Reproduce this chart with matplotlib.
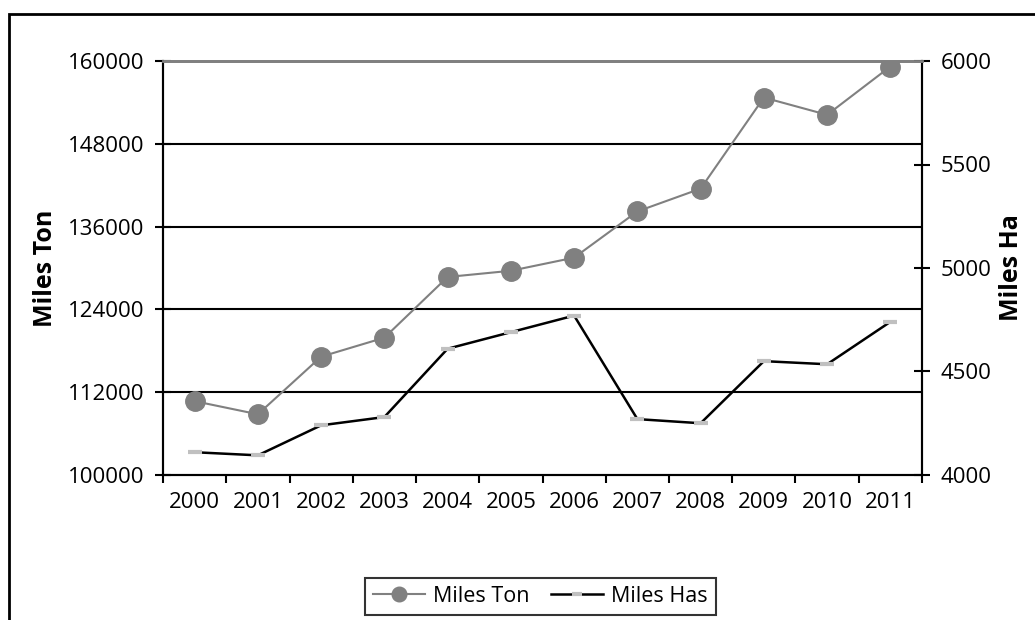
import matplotlib
matplotlib.use("Agg")
import matplotlib.pyplot as plt
from matplotlib.patches import Rectangle
import numpy as np

years = ["2000", "2001", "2002", "2003", "2004", "2005", "2006", "2007", "2008", "2009", "2010", "2011"]
miles_ton = [110700, 108800, 117150, 119900, 128700, 129600, 131500, 138200, 141500, 154700, 152200, 159200]
miles_has = [4110, 4095, 4240, 4280, 4610, 4690, 4770, 4270, 4250, 4550, 4535, 4740]
left_ticks = [100000, 112000, 124000, 136000, 148000, 160000]
right_ticks = [4000, 4500, 5000, 5500, 6000]

plt.rcParams['font.family'] = ['Open Sans', 'DejaVu Sans']

fig = plt.figure(figsize=(10.35, 6.2), dpi=100)
ax = fig.add_axes([163/1035, 1-475/620, (922-163)/1035, (475-61)/620])
ax2 = ax.twinx()

x = np.arange(len(years))

# gridlines
for v in left_ticks[1:-1]:
    ax.axhline(v, color='black', lw=1.5, zorder=1)

ax.plot(x, miles_ton, color='#808080', lw=1.5, marker='o', ms=14,
        markerfacecolor='#808080', markeredgecolor='#808080', label='Miles Ton', zorder=3)
ax2.plot(x, miles_has, color='black', lw=1.8, marker='_', ms=10, mew=3,
         markeredgecolor='#c0c0c0', label='Miles Has', zorder=3)

ax.set_xlim(-0.5, 11.5)
ax.set_ylim(100000, 160000)
ax2.set_ylim(4000, 6000)
ax.set_yticks(left_ticks)
ax.set_yticklabels([str(v) for v in left_ticks], fontsize=16)
ax2.set_yticks(right_ticks)
ax2.set_yticklabels([str(v) for v in right_ticks], fontsize=16)

ax.set_xticks(np.arange(-0.5, 12, 1))
ax.set_xticklabels([])
ax.set_xticks(x, minor=True)
ax.set_xticklabels(years, minor=True, fontsize=16)
ax.tick_params(axis='x', which='major', direction='out', length=6, width=1.5)
ax.tick_params(axis='x', which='minor', length=0, pad=12)
ax.tick_params(axis='y', direction='inout', length=11, width=1.5, pad=8)
ax2.tick_params(axis='y', direction='inout', length=11, width=1.5, pad=8)

for a in (ax, ax2):
    a.spines['top'].set_color('#808080')
    a.spines['top'].set_linewidth(2)
    for s in ('left', 'right', 'bottom'):
        a.spines[s].set_linewidth(1.5)
        a.spines[s].set_color('black')

ax.set_ylabel('Miles Ton', fontsize=18, fontweight='bold', labelpad=7)
ax2.set_ylabel('Miles Ha', fontsize=18, fontweight='bold', labelpad=5)

h1, l1 = ax.get_legend_handles_labels()
h2, l2 = ax2.get_legend_handles_labels()
leg = fig.legend(h1 + h2, l1 + l2, loc='center', bbox_to_anchor=(540.5/1035, 1-596.5/620),
                 ncol=2, fontsize=15.5, frameon=True, fancybox=False, edgecolor='black',
                 handlelength=2.4, columnspacing=1.0, handletextpad=0.4, borderpad=0.35,
                 markerscale=0.75)
leg.get_frame().set_linewidth(1.5)

fig.patches.append(Rectangle((9/1035, -0.1), 1.2, 1.1 - 14/620, transform=fig.transFigure,
                             fill=False, edgecolor='black', lw=2, zorder=10))

fig.savefig('out.png', dpi=100)
